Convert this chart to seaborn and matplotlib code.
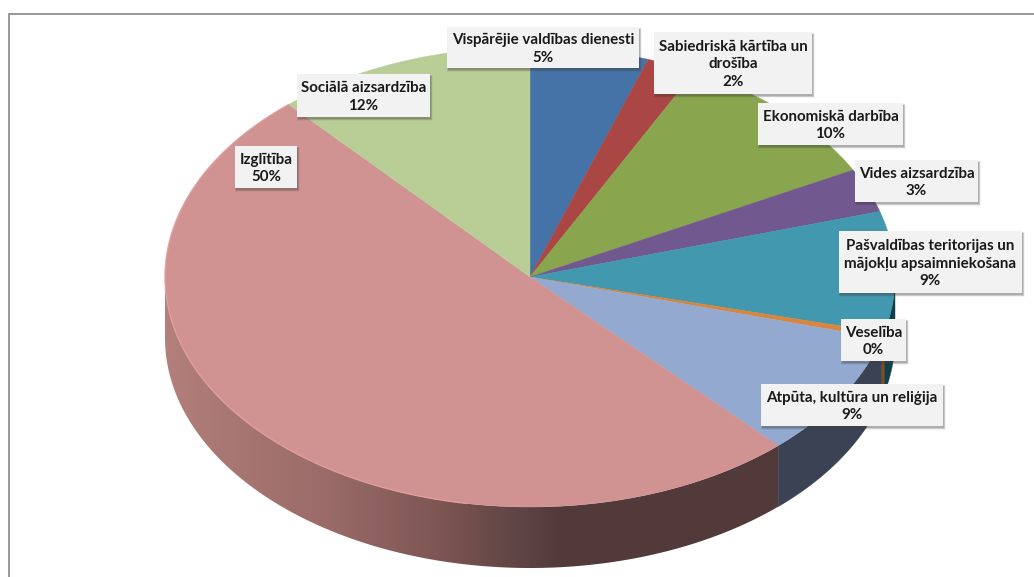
import numpy as np
import matplotlib
matplotlib.use("Agg")
import matplotlib.pyplot as plt
from matplotlib.colors import LinearSegmentedColormap
from matplotlib.patches import Rectangle
import seaborn as sns

# Data
categories = ["Vispārējie valdības dienesti", "Sabiedriskā kārtība un\ndrošība", "Ekonomiskā darbība",
              "Vides aizsardzība", "Pašvaldības teritorijas un\nmājokļu apsaimniekošana", "Veselība",
              "Atpūta, kultūra un reliģija", "Izglītība", "Sociālā aizsardzība"]
values = [5.25, 2.2, 9.85, 3.1, 8.5, 0.4, 8.8, 50.4, 11.5]
percent_labels = [5, 2, 10, 3, 9, 0, 9, 50, 12]

top_colors = ["#4572A7", "#AA4643", "#89A54E", "#71588F", "#4198AF", "#DB843D", "#93A9CF", "#D19392", "#B9CD96"]
wall_colors = ["#2a4467", "#672a28", "#52632f", "#443556", "#123f4b", "#8a4a14", "#3a4254", None, "#6f7b5a"]

# label boxes in pixels: left, top, right, bottom
boxes = [(447, 27, 639, 68), (654, 32, 812, 94), (758, 103, 903, 145), (855, 160, 978, 202),
         (839, 231, 1022, 293), (841, 319, 906, 361), (761, 384, 943, 426), (235, 146, 297, 188),
         (297, 74, 430, 117)]

W, H = 1034, 577
cx, cy, rx, ry, depth = 530, 277, 365, 230, 61

sns.set_style("white")
plt.rcParams['font.family'] = ['Lato', 'DejaVu Sans']

fig = plt.figure(figsize=(W / 100, H / 100), dpi=100)
ax = fig.add_axes([0, 0, 1, 1])

# top of the pie, squashed into an ellipse by the axis limits below
wedges, _ = ax.pie(values, colors=sns.color_palette(top_colors), startangle=90, counterclock=False,
                   radius=1, center=(0, 0))
for w in wedges:
    w.set_zorder(5)
    w.set_edgecolor(w.get_facecolor())
    w.set_linewidth(0.3)

dz = depth / ry
for w, col in zip(wedges, wall_colors):
    lo, hi = max(w.theta1, -180), min(w.theta2, 0)
    if lo >= hi:
        continue
    t = np.radians(np.linspace(lo, hi, 200))
    xs = np.concatenate([np.cos(t), np.cos(t[::-1])])
    ys = np.concatenate([np.sin(t), np.sin(t[::-1]) - dz])
    if col is not None:
        ax.fill(xs, ys, color=col, lw=0.3, zorder=2)
    else:
        # the big slice has a shaded side, light on the left and dark on the right
        poly = ax.fill(xs, ys, color="none", lw=0, zorder=2)[0]
        stops = [(0.0, "#b27f7a"), (0.22, "#9a6b69"), (0.38, "#7c5552"), (0.48, "#604545"), (0.54, "#533a3a"),
                 (1.0, "#533a3a")]
        cmap = LinearSegmentedColormap.from_list("wall", stops)
        im = ax.imshow(np.linspace(0, 1, 600).reshape(1, -1), cmap=cmap, aspect="auto", zorder=2,
                       extent=(-1, 1, -1 - dz, 0.1))
        im.set_clip_path(poly)
        # thin light rim on the edge of the slice
        t2 = np.radians(np.linspace(w.theta1, -100, 200))
        ax.plot(np.cos(t2), np.sin(t2), color="#e2a09d", lw=1.0, zorder=6, alpha=0.8)

ax.set_aspect("auto")
ax.set_xlim(-cx / rx, (W - cx) / rx)
ax.set_ylim((cy - H) / ry, cy / ry)
ax.axis("off")

# overlay in pixel coordinates for the frame and the label boxes
over = fig.add_axes([0, 0, 1, 1])
over.set_xlim(0, W)
over.set_ylim(H, 0)
over.axis("off")
over.patch.set_alpha(0)

over.plot([8.5, 8.5, W], [H, 13.5, 13.5], color="#8f8f8f", lw=1.3, solid_joinstyle="miter")

for (l, t, r, b), cat, pct in zip(boxes, categories, percent_labels):
    # soft shadow under each box
    for grow, a in zip([3, 2, 1, 0], [0.06, 0.10, 0.14, 0.20]):
        over.add_patch(Rectangle((l + 1 - grow / 2, t + 2 - grow / 2), r - l + grow, b - t + grow,
                                 fc="#404040", ec="none", alpha=a, zorder=8))
    over.add_patch(Rectangle((l, t), r - l, b - t, fc="#f2f2f2", ec="none", zorder=9))
    over.text((l + r) / 2, (t + b) / 2 + 1.5, f"{cat}\n{pct}%", ha="center", va="center", fontsize=10.9,
              fontweight="bold", color="#1a1a1a", linespacing=1.33, zorder=10)

fig.savefig("out.png", dpi=100)
